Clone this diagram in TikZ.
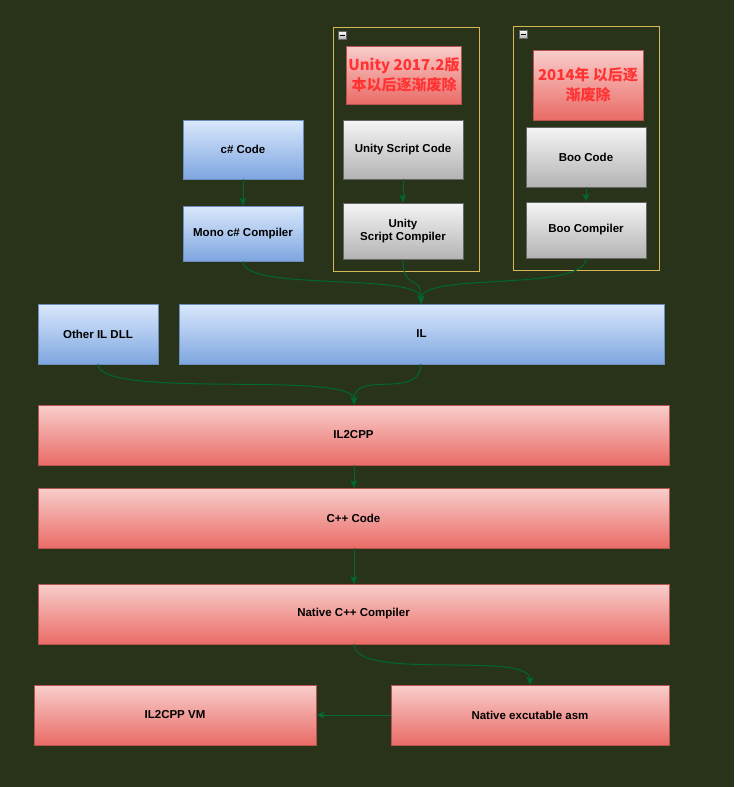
\documentclass[tikz,border=0pt]{standalone}
\usepackage{fontspec}
\setmainfont{Liberation Sans}
\newfontfamily\cjk{Noto Sans CJK SC}
\usetikzlibrary{arrows.meta}
\definecolor{bgc}{HTML}{29331A}
\definecolor{edgec}{HTML}{006633}
\definecolor{bluet}{HTML}{DAE8FC}
\definecolor{blueb}{HTML}{7EA6E0}
\definecolor{bluel}{HTML}{6C8EBF}
\definecolor{grayt}{HTML}{F5F5F5}
\definecolor{grayb}{HTML}{B3B3B3}
\definecolor{grayl}{HTML}{666666}
\definecolor{redt}{HTML}{F8CECC}
\definecolor{redb}{HTML}{EA6B66}
\definecolor{redl}{HTML}{B85450}
\definecolor{grpl}{HTML}{D6B656}
\definecolor{warn}{HTML}{FF3333}
\tikzset{
  box/.style={draw, line width=0.8pt, inner sep=2pt, align=center,
    font=\fontsize{11.5}{13.5}\selectfont\bfseries, text=black},
  bluebox/.style={box, draw=bluel, top color=bluet, bottom color=blueb},
  graybox/.style={box, draw=grayl, top color=grayt, bottom color=grayb},
  redbox/.style={box, draw=redl, top color=redt, bottom color=redb},
  warnbox/.style={redbox, text=warn, font=\cjk\fontsize{15}{20}\selectfont\bfseries},
  grp/.style={draw=grpl, line width=0.8pt},
  sz/.style n args={2}{minimum width=#1pt, minimum height=#2pt},
  conn/.style={draw=edgec, line width=1pt, -{Stealth[length=8pt,width=7pt,inset=2pt]}},
  collapse/.style={draw=grayl, line width=0.6pt, top color=white, bottom color=grayb,
    minimum width=8pt, minimum height=8pt, inner sep=0pt}
}
\begin{document}
\begin{tikzpicture}[x=1pt,y=-1pt]
\fill[bgc] (0,0) rectangle (734,787);
\useasboundingbox (0,0) rectangle (734,787);

% groups
\draw[grp] (333,27) rectangle (479,271);
\draw[grp] (513,26) rectangle (659,270);
\node[collapse] (c1) at (342,35) {};
\draw[black, line width=1pt] (339.5,35) -- (344.5,35);
\node[collapse] (c2) at (523,34) {};
\draw[black, line width=1pt] (520.5,34) -- (525.5,34);

% warning boxes
\node[warnbox, sz={114}{58}] (w1) at (404,75) {Unity 2017.2版\\本以后逐渐废除};
\node[warnbox, sz={110}{70}] (w2) at (588,85) {2014年 以后逐\\渐废除};

% sources
\node[bluebox, sz={120}{59}] (cs) at (243,149.5) {c\# Code};
\node[bluebox, sz={120}{55}] (mono) at (243,233.5) {Mono c\# Compiler};
\node[graybox, sz={120}{59}] (us) at (403,149.5) {Unity Script Code};
\node[graybox, sz={120}{56}] (usc) at (403,231) {Unity\\Script Compiler};
\node[graybox, sz={120}{60}] (boo) at (586,157) {Boo Code};
\node[graybox, sz={120}{56}] (booc) at (586,230) {Boo Compiler};

% IL
\node[bluebox, sz={120}{60}] (oil) at (98,334) {Other IL DLL};
\node[bluebox, sz={485}{60}] (il) at (421.5,334) {IL};

% pipeline
\node[redbox, sz={631}{60}] (il2cpp) at (353.5,435) {IL2CPP};
\node[redbox, sz={631}{60}] (cpp) at (353.5,518) {C++ Code};
\node[redbox, sz={631}{60}] (ncc) at (353.5,614) {Native C++ Compiler};
\node[redbox, sz={282}{60}] (vm) at (175,715) {IL2CPP VM};
\node[redbox, sz={278}{60}] (asm) at (530,715) {Native excutable asm};

% connectors
\draw[conn] (cs.south) -- (mono.north);
\draw[conn] (us.south) -- (usc.north);
\draw[conn] (boo.south) -- (booc.north);
\coordinate (ilin) at (421,304);
\draw[conn] (mono.south) .. controls (243,292) and (421,272) .. (ilin);
\draw[conn] (usc.south) .. controls (403,292) and (421,272) .. (ilin);
\draw[conn] (booc.south) .. controls (586,292) and (421,272) .. (ilin);
\coordinate (ilo) at (421,364);
\coordinate (il2in) at (354,405);
\coordinate (olo) at (98,364);
\draw[conn] (olo) .. controls (98,400) and (354,370) .. (il2in);
\draw[conn] (ilo) .. controls (421,400) and (354,370) .. (il2in);
\draw[conn] (354,465) -- (354,488);
\draw[conn] (354,548) -- (354,584);
\coordinate (ncco) at (354,644);
\coordinate (asmin) at (530,685);
\draw[conn] (ncco) .. controls (354,682) and (530,650) .. (asmin);
\draw[conn] (asm.west) -- (vm.east);
\end{tikzpicture}
\end{document}
